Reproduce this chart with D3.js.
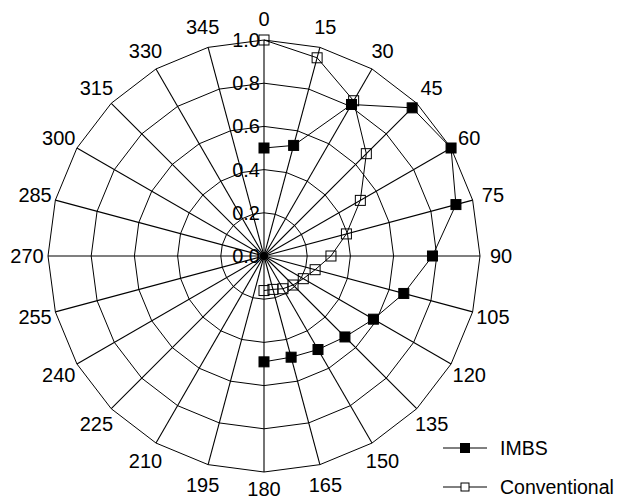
<!DOCTYPE html>
<html>
<head>
<meta charset="utf-8">
<script src="https://cdn.jsdelivr.net/npm/d3@7"></script>
<style>
  html, body { margin: 0; padding: 0; background: #fff; }
  svg { display: block; }
  text { font-family: "Liberation Sans", Arial, Helvetica, sans-serif; fill: #000; }
</style>
</head>
<body>
<svg id="chart" width="626" height="502"></svg>
<script>
// Measured directions (degrees, clockwise from 0 at the top)
const angles = [0, 15, 30, 45, 60, 75, 90, 105, 120, 135, 150, 165, 180];
// Normalised response for each method
const imbs = [0.50, 0.53, 0.81, 0.97, 1.00, 0.92, 0.78, 0.67, 0.585, 0.53, 0.50, 0.485, 0.49];
const conventional = [1.00, 0.95, 0.83, 0.67, 0.515, 0.395, 0.31, 0.245, 0.21, 0.19, 0.175, 0.16, 0.16];
// Grid
const gridAngles = d3.range(0, 360, 15);
const radialTicks = [0.0, 0.2, 0.4, 0.6, 0.8, 1.0];
const seriesNames = ["IMBS", "Conventional"];

const svg = d3.select("#chart");
const cx = 264, cy = 256;
const r = d3.scaleLinear().domain([0, 1]).range([0, 216]);
const rad = d => d * Math.PI / 180;
const pt = (a, v) => [cx + r(v) * Math.sin(rad(a)), cy - r(v) * Math.cos(rad(a))];

const g = svg.append("g");

// Polygonal rings (24 sides, vertices on the spokes)
radialTicks.filter(t => t > 0).forEach(t => {
  g.append("path")
    .attr("transform", `translate(${cx},${cy})`)
    .attr("d", d3.lineRadial().angle(a => rad(a)).radius(r(t)).curve(d3.curveLinearClosed)(gridAngles))
    .attr("fill", "none")
    .attr("stroke", "#000")
    .attr("stroke-width", 1);
});

// Spokes
g.selectAll("line.spoke").data(gridAngles).join("line")
  .attr("class", "spoke")
  .attr("x1", cx).attr("y1", cy)
  .attr("x2", a => pt(a, 1)[0])
  .attr("y2", a => pt(a, 1)[1])
  .attr("stroke", "#000")
  .attr("stroke-width", 1.1);

g.append("circle").attr("cx", cx).attr("cy", cy).attr("r", 4).attr("fill", "#000");

// Angle labels (the bottom one sits a little closer so it stays on the page)
const labelR = a => (a === 180 ? 233 : 237);
g.selectAll("text.ang").data(gridAngles).join("text")
  .attr("class", "ang")
  .attr("x", a => cx + labelR(a) * Math.sin(rad(a)))
  .attr("y", a => cy - labelR(a) * Math.cos(rad(a)))
  .attr("text-anchor", "middle")
  .attr("dominant-baseline", "central")
  .attr("font-size", 20)
  .text(a => a);

// Radial tick labels along the 0° spoke
g.selectAll("text.rt").data(radialTicks).join("text")
  .attr("class", "rt")
  .attr("x", cx - 4)
  .attr("y", t => cy - r(t) + 7)
  .attr("text-anchor", "end")
  .attr("font-size", 20)
  .text(t => t.toFixed(1));

// Series
const line = d3.line().x(d => d[0]).y(d => d[1]);
function drawSeries(values, filled) {
  const pts = angles.map((a, i) => pt(a, values[i]));
  g.append("path")
    .attr("d", line(pts))
    .attr("fill", "none")
    .attr("stroke", "#000")
    .attr("stroke-width", 1);
  const s = 10;
  g.append("g").selectAll("rect").data(pts).join("rect")
    .attr("x", d => d[0] - s / 2)
    .attr("y", d => d[1] - s / 2)
    .attr("width", s).attr("height", s)
    .attr("fill", filled ? "#000" : "none")
    .attr("stroke", "#000")
    .attr("stroke-width", 1);
}
drawSeries(conventional, false);
drawSeries(imbs, true);

// Legend
const legend = svg.append("g");
seriesNames.forEach((name, i) => {
  const y = 448 + i * 39;
  legend.append("line")
    .attr("x1", 443).attr("x2", 487).attr("y1", y).attr("y2", y)
    .attr("stroke", "#000").attr("stroke-width", 1);
  const s = i === 0 ? 9 : 8;
  legend.append("rect")
    .attr("x", 465 - s / 2).attr("y", y - s / 2)
    .attr("width", s).attr("height", s)
    .attr("fill", i === 0 ? "#000" : "#fff")
    .attr("stroke", "#000").attr("stroke-width", 1);
  legend.append("text")
    .attr("x", 500).attr("y", y)
    .attr("dominant-baseline", "central")
    .attr("font-size", 19.5)
    .text(name);
});
</script>
</body>
</html>
